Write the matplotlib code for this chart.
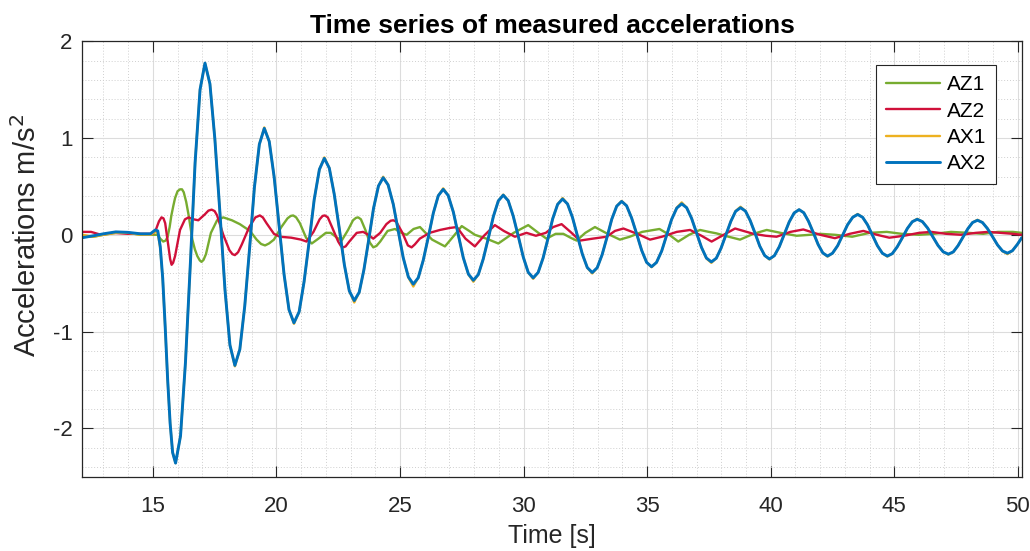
import matplotlib
matplotlib.use("Agg")
import matplotlib.pyplot as plt
from matplotlib.ticker import MultipleLocator

plt.rcParams['font.family'] = ['Liberation Sans', 'DejaVu Sans']
plt.rcParams['axes.unicode_minus'] = False

# ---- data ----
t_ax = [12.15, 12.6, 13.0, 13.5, 14.0, 14.5, 14.9, 15.1, 15.2, 15.3,
        15.4, 15.5, 15.6, 15.7, 15.8, 15.92,
        16.12, 16.32, 16.52, 16.71, 16.91, 17.11,
        17.31, 17.51, 17.72, 17.92, 18.12, 18.32,
        18.52, 18.72, 18.92, 19.11, 19.31, 19.51,
        19.71, 19.91, 20.11, 20.31, 20.51, 20.71,
        20.92, 21.12, 21.33, 21.53, 21.74, 21.94,
        22.14, 22.34, 22.55, 22.75, 22.95, 23.15,
        23.35, 23.54, 23.74, 23.93, 24.13, 24.32,
        24.52, 24.73, 24.93, 25.13, 25.34, 25.54,
        25.74, 25.94, 26.15, 26.35, 26.55, 26.75,
        26.95, 27.16, 27.36, 27.56, 27.77, 27.97,
        28.17, 28.37, 28.58, 28.78, 28.98, 29.18,
        29.38, 29.58, 29.79, 29.99, 30.19, 30.39,
        30.59, 30.79, 30.99, 31.18, 31.38, 31.58,
        31.78, 31.98, 32.18, 32.38, 32.58, 32.78,
        32.98, 33.18, 33.38, 33.57, 33.77, 33.97,
        34.17, 34.37, 34.58, 34.78, 34.98, 35.18,
        35.38, 35.59, 35.79, 35.99, 36.2, 36.4,
        36.6, 36.8, 37.0, 37.2, 37.4, 37.6,
        37.8, 37.99, 38.19, 38.39, 38.58, 38.78,
        38.98, 39.17, 39.37, 39.56, 39.76, 39.95,
        40.15, 40.35, 40.55, 40.75, 40.95, 41.15,
        41.34, 41.53, 41.73, 41.92, 42.11, 42.3,
        42.5, 42.71, 42.91, 43.11, 43.32, 43.52,
        43.72, 43.92, 44.12, 44.32, 44.52, 44.72,
        44.92, 45.12, 45.33, 45.53, 45.73, 45.93,
        46.14, 46.35, 46.56, 46.77, 46.98, 47.19,
        47.39, 47.58, 47.78, 47.98, 48.17, 48.37,
        48.57, 48.77, 48.98, 49.18, 49.38, 49.58,
        49.78, 49.98, 50.16]

ax2 = [-0.03, -0.01, 0.01, 0.03, 0.025, 0.01, 0.01, 0.05, 0.04, -0.12,
       -0.45, -0.95, -1.5, -1.95, -2.25, -2.36,
       -2.08, -1.32, -0.29, 0.745, 1.50, 1.775,
       1.56, 0.99, 0.21, -0.57, -1.14, -1.35,
       -1.185, -0.735, -0.125, 0.49, 0.935, 1.10,
       0.965, 0.595, 0.095, -0.41, -0.775, -0.91,
       -0.796, -0.485, -0.06, 0.365, 0.676, 0.79,
       0.69, 0.42, 0.055, -0.31, -0.58, -0.68,
       -0.595, -0.363, -0.045, 0.273, 0.505, 0.59,
       0.516, 0.315, 0.04, -0.235, -0.436, -0.51,
       -0.444, -0.265, -0.02, 0.225, 0.404, 0.47,
       0.407, 0.235, 0.0, -0.235, -0.407, -0.47,
       -0.411, -0.25, -0.03, 0.19, 0.351, 0.41,
       0.353, 0.196, -0.018, -0.231, -0.388, -0.445,
       -0.39, -0.241, -0.038, 0.166, 0.315, 0.37,
       0.319, 0.18, -0.01, -0.2, -0.339, -0.39,
       -0.341, -0.206, -0.023, 0.161, 0.296, 0.345,
       0.30, 0.176, 0.008, -0.161, -0.285, -0.33,
       -0.286, -0.168, -0.005, 0.158, 0.276, 0.32,
       0.28, 0.17, 0.02, -0.13, -0.24, -0.28,
       -0.242, -0.14, 0.0, 0.14, 0.242, 0.28,
       0.245, 0.148, 0.015, -0.118, -0.215, -0.25,
       -0.216, -0.123, 0.005, 0.133, 0.226, 0.26,
       0.228, 0.14, 0.02, -0.1, -0.188, -0.22,
       -0.191, -0.113, -0.005, 0.103, 0.181, 0.21,
       0.181, 0.103, -0.005, -0.113, -0.191, -0.22,
       -0.195, -0.125, -0.03, 0.065, 0.135, 0.16,
       0.136, 0.07, -0.02, -0.11, -0.176, -0.20,
       -0.177, -0.113, -0.025, 0.063, 0.127, 0.15,
       0.127, 0.065, -0.02, -0.105, -0.167, -0.19,
       -0.165, -0.1, -0.03]

ax1 = [0.0, -0.02, 0.0, 0.02, 0.02, 0.0, 0.0, 0.03, 0.02, -0.14,
       -0.46, -0.96, -1.5, -1.95, -2.25, -2.36,
       -2.08, -1.32, -0.29, 0.745, 1.50, 1.775,
       1.56, 0.99, 0.21, -0.57, -1.14, -1.36,
       -1.185, -0.735, -0.125, 0.49, 0.935, 1.11,
       0.965, 0.595, 0.095, -0.41, -0.775, -0.92,
       -0.796, -0.485, -0.06, 0.365, 0.676, 0.80,
       0.69, 0.42, 0.055, -0.31, -0.58, -0.70,
       -0.595, -0.363, -0.045, 0.273, 0.505, 0.60,
       0.516, 0.315, 0.04, -0.235, -0.44, -0.535,
       -0.444, -0.265, -0.02, 0.225, 0.404, 0.48,
       0.407, 0.235, 0.0, -0.235, -0.41, -0.485,
       -0.411, -0.25, -0.03, 0.19, 0.351, 0.415,
       0.353, 0.196, -0.018, -0.231, -0.39, -0.455,
       -0.39, -0.241, -0.038, 0.166, 0.315, 0.38,
       0.319, 0.18, -0.01, -0.2, -0.34, -0.40,
       -0.341, -0.206, -0.023, 0.161, 0.296, 0.35,
       0.30, 0.176, 0.008, -0.161, -0.285, -0.335,
       -0.286, -0.168, -0.005, 0.158, 0.28, 0.335,
       0.28, 0.17, 0.02, -0.13, -0.245, -0.29,
       -0.242, -0.14, 0.0, 0.14, 0.245, 0.29,
       0.245, 0.148, 0.015, -0.118, -0.215, -0.255,
       -0.216, -0.123, 0.005, 0.133, 0.226, 0.26,
       0.228, 0.14, 0.02, -0.1, -0.188, -0.225,
       -0.191, -0.113, -0.005, 0.103, 0.181, 0.215,
       0.181, 0.103, -0.005, -0.113, -0.191, -0.225,
       -0.195, -0.125, -0.03, 0.065, 0.135, 0.165,
       0.136, 0.07, -0.02, -0.11, -0.176, -0.205,
       -0.177, -0.113, -0.025, 0.063, 0.127, 0.155,
       0.127, 0.065, -0.02, -0.105, -0.17, -0.20,
       -0.165, -0.1, -0.03]

t_az1 = [12.15, 12.6, 13.0, 13.5, 14.0, 14.5, 15.0, 15.2, 15.3, 15.42, 15.52, 15.6,
         15.68, 15.75, 15.83, 15.9, 16.0, 16.1, 16.18, 16.25, 16.35, 16.45, 16.6, 16.7,
         16.8, 16.9, 16.97, 17.05, 17.15, 17.35,
         17.6, 17.85, 18.2, 18.52, 18.93, 19.2, 19.38, 19.54, 19.7, 19.9, 20.2, 20.45,
         20.58, 20.68, 20.8, 20.95, 21.2, 21.43, 21.7, 22.0, 22.2, 22.45, 22.64, 22.9,
         23.1, 23.22, 23.31, 23.42, 23.6, 23.78, 23.92, 24.05, 24.2, 24.5, 24.8, 25.05,
         25.27, 25.55,
         25.81, 26.3, 26.82, 27.15, 27.5, 27.8, 28.03, 28.5, 28.98, 29.6,
         30.19, 30.6, 30.93, 31.3, 31.61, 31.9, 32.15, 32.5, 32.89, 33.4,
         33.9, 34.3, 34.8, 35.5, 35.9, 36.26, 36.7, 37.14, 37.5, 37.8,
         38.3, 38.76, 39.3, 39.84, 40.4, 41.05, 41.6, 42.0, 42.6, 43.3,
         44.0, 44.7, 45.3, 46.0, 46.6, 47.3, 48.0, 48.6, 49.2, 49.8, 50.16]
az1 = [-0.02, -0.02, 0.0, 0.02, 0.02, 0.0, 0.0, 0.0, -0.04, -0.07, -0.06, -0.02,
       0.08, 0.2, 0.3, 0.38, 0.45, 0.47, 0.47, 0.44, 0.34, 0.2, -0.05, -0.15,
       -0.22, -0.265, -0.28, -0.26, -0.2, 0.02,
       0.15, 0.18, 0.15, 0.11, 0.04, -0.05, -0.095, -0.11, -0.09, -0.05, 0.08, 0.17,
       0.195, 0.20, 0.18, 0.12, -0.03, -0.09, -0.04, 0.02, 0.02, -0.03, -0.06, 0.05,
       0.15, 0.175, 0.18, 0.16, 0.05, -0.08, -0.13, -0.115, -0.07, 0.04, 0.06, 0.02,
       0.0, 0.06,
       0.08, -0.05, -0.12, -0.02, 0.09, 0.04, 0.0, -0.04, -0.09, 0.02,
       0.10, 0.02, -0.04, 0.01, 0.01, -0.03, -0.06, 0.02, 0.08, 0.01,
       -0.05, -0.02, 0.03, 0.06, 0.0, -0.07, 0.0, 0.05, 0.03, 0.015,
       -0.02, -0.05, 0.01, 0.05, 0.02, -0.01, 0.0, 0.01, 0.0, -0.02,
       0.02, 0.03, 0.01, 0.0, 0.01, 0.03, 0.02, 0.01, 0.03, 0.03, 0.02]

t_az2 = [12.15, 12.5, 12.9, 13.4, 14.0, 14.5, 15.0, 15.12, 15.25, 15.35, 15.43, 15.5,
         15.62, 15.7, 15.76, 15.82, 15.9, 16.1, 16.3, 16.45, 16.65, 16.84, 17.1, 17.25, 17.38,
         17.5, 17.6, 17.85, 18.1, 18.22, 18.32, 18.45, 18.6, 18.9, 19.15, 19.33, 19.45, 19.6, 19.9,
         20.14, 20.6, 21.0, 21.22, 21.5, 21.75, 21.87, 21.96, 22.08, 22.25, 22.5, 22.62, 22.7,
         22.8, 22.95, 23.25, 23.51, 23.72, 23.92, 24.2, 24.45, 24.62, 24.73, 24.85, 25.1, 25.32, 25.47,
         25.6, 25.8, 26.2, 26.62, 27.0, 27.3, 27.65, 28.03, 28.4, 28.84, 29.2,
         29.65, 30.12, 30.5, 30.9, 31.2, 31.54, 31.9, 32.28, 32.8, 33.36,
         33.7, 34.04, 34.6, 35.12, 35.6, 36.2, 36.74, 37.2, 37.61, 38.1,
         38.56, 39.3, 39.8, 40.24, 40.8, 41.32, 42.0, 42.6, 43.2, 43.75,
         44.3, 44.8, 45.4, 46.0, 46.5, 47.1, 47.7, 48.3, 48.8, 49.3, 49.8, 50.16]
az2 = [0.03, 0.03, 0.0, 0.02, 0.01, 0.01, 0.01, 0.05, 0.14, 0.18, 0.17, 0.12,
       -0.1, -0.25, -0.31, -0.29, -0.22, 0.05, 0.16, 0.18, 0.16, 0.15, 0.21, 0.25, 0.26,
       0.245, 0.2, 0.0, -0.16, -0.2, -0.21, -0.18, -0.1, 0.08, 0.18, 0.20, 0.18, 0.12, 0.01,
       -0.02, -0.03, -0.05, -0.07, 0.03, 0.16, 0.195, 0.20, 0.18, 0.08, -0.07, -0.12, -0.13,
       -0.12, -0.07, 0.02, 0.03, 0.0, -0.04, 0.02, 0.11, 0.145, 0.15, 0.135, 0.02, -0.11, -0.13,
       -0.1, -0.04, 0.02, 0.05, 0.07, 0.08, -0.04, -0.12, -0.01, 0.10, 0.04,
       -0.02, 0.02, -0.01, 0.02, 0.08, 0.11, 0.03, -0.06, -0.04, -0.02,
       0.04, 0.065, 0.01, -0.05, -0.02, 0.03, 0.05, -0.01, -0.07, 0.0,
       0.065, 0.01, -0.01, -0.02, 0.03, 0.055, 0.0, -0.035, 0.01, 0.04,
       0.0, -0.03, -0.01, 0.02, 0.03, 0.01, 0.0, 0.02, 0.03, 0.02, 0.01, 0.0]

series = ['AZ1', 'AZ2', 'AX1', 'AX2']
colors = ['#77AC30', '#D0103A', '#EDB120', '#0072BD']

fig = plt.figure(figsize=(10.3, 5.51), dpi=100)
ax = fig.add_axes([0.080, 0.135, 0.912, 0.79])

kw = dict(solid_joinstyle='round', solid_capstyle='round')
ax.plot(t_az1, az1, color=colors[0], lw=1.7, label=series[0], **kw)
ax.plot(t_az2, az2, color=colors[1], lw=1.7, label=series[1], **kw)
ax.plot(t_ax, ax1, color=colors[2], lw=1.7, label=series[2], **kw)
ax.plot(t_ax, ax2, color=colors[3], lw=2.1, label=series[3], **kw)

ax.set_xlim(12.15, 50.16)
ax.set_ylim(-2.5, 2)
ax.xaxis.set_major_locator(MultipleLocator(5))
ax.xaxis.set_minor_locator(MultipleLocator(1))
ax.yaxis.set_major_locator(MultipleLocator(1))
ax.yaxis.set_minor_locator(MultipleLocator(0.2))

ax.grid(which='major', color='#DCDCDC', lw=0.8, ls='-')
ax.grid(which='minor', color='#CFCFCF', lw=0.7, ls=(0, (1, 2)))
ax.set_axisbelow(True)

ax.tick_params(which='major', direction='in', length=8, width=0.8,
               top=True, right=True, labelsize=16, colors='#262626')
ax.tick_params(axis='x', pad=14)
ax.tick_params(axis='y', pad=7)
ax.tick_params(which='minor', length=0)
for s in ax.spines.values():
    s.set_color('#262626')
    s.set_linewidth(0.9)

ax.set_title('Time series of measured accelerations', fontsize=19,
             fontweight='bold', pad=6)
ax.set_xlabel('Time [s]', fontsize=18, color='#262626')
ax.xaxis.label.set_va('bottom')
ax.xaxis.set_label_coords(0.5, -0.165)
ax.set_ylabel('Accelerations m/s$^2$', fontsize=21, color='#262626')
ax.yaxis.set_label_coords(-0.043, 0.555)

leg = ax.legend(loc='upper right', bbox_to_anchor=(0.973, 0.946), fontsize=15,
                fancybox=False, framealpha=1, edgecolor='#262626',
                borderaxespad=0, handlelength=2.6, borderpad=0.5,
                labelspacing=0.35, handletextpad=0.3)
leg.get_frame().set_linewidth(0.8)

fig.savefig('out.png', dpi=100)
